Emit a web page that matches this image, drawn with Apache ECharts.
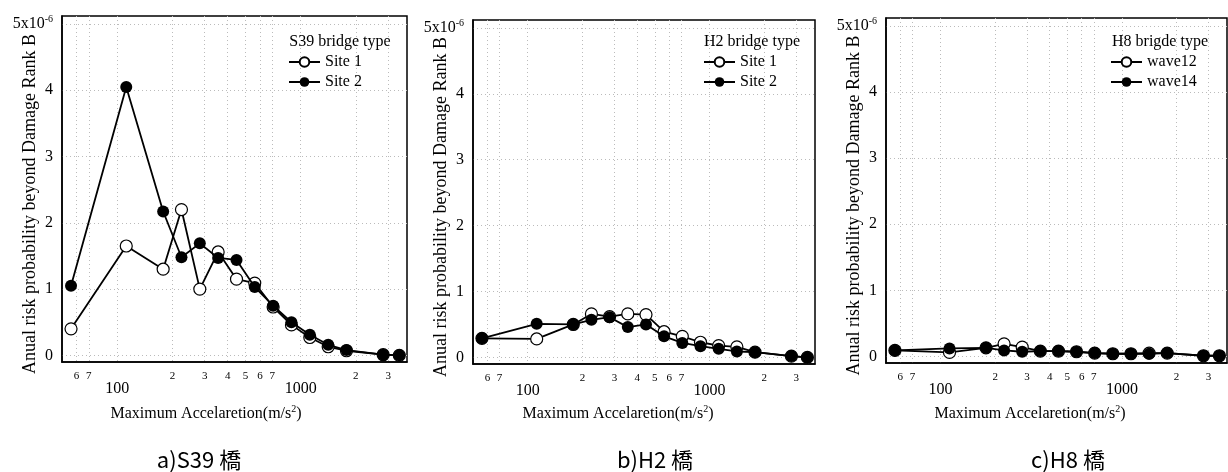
<!DOCTYPE html>
<html>
<head>
<meta charset="utf-8">
<script src="https://cdn.jsdelivr.net/npm/echarts@6/dist/echarts.min.js"></script>
<style>
html,body{margin:0;padding:0;background:#fff;}
#chart{width:1228px;height:472px;}
</style>
</head>
<body>
<div id="chart"></div>
<script>
// ---- data (y values in units of 1e-6) ----
const accel = [56, 112, 178, 224, 282, 355, 447, 562, 708, 891, 1122, 1413, 1778, 2818, 3450];
const s39Site1 = [0.40, 1.65, 1.30, 2.20, 1.00, 1.56, 1.15, 1.09, 0.73, 0.46, 0.27, 0.13, 0.07, 0.01, 0.00];
const s39Site2 = [1.05, 4.05, 2.17, 1.48, 1.69, 1.47, 1.44, 1.03, 0.75, 0.50, 0.31, 0.16, 0.08, 0.01, 0.00];
const h2Site1  = [0.29, 0.28, 0.50, 0.66, 0.62, 0.66, 0.65, 0.39, 0.32, 0.23, 0.18, 0.16, 0.08, 0.02, 0.00];
const h2Site2  = [0.29, 0.51, 0.50, 0.57, 0.61, 0.46, 0.50, 0.32, 0.22, 0.17, 0.13, 0.09, 0.08, 0.02, 0.00];
const h8Wave12 = [0.09, 0.06, 0.13, 0.19, 0.14, 0.08, 0.08, 0.07, 0.05, 0.04, 0.04, 0.05, 0.05, 0.01, 0.01];
const h8Wave14 = [0.09, 0.12, 0.13, 0.09, 0.07, 0.08, 0.08, 0.07, 0.05, 0.04, 0.04, 0.04, 0.05, 0.01, 0.01];

const minorTicks = [60, 70, 200, 300, 400, 500, 600, 700, 2000, 3000];
const majorTicks = [100, 1000];
const yTicks = [0, 1, 2, 3, 4, 5];
const xRange = [50, 3800];
const yRange = [-0.1, 5.12];

const panels = [
  {header: 'S39 bridge type', names: ['Site 1', 'Site 2'], s: [s39Site1, s39Site2], caption: 'a)S39 橋'},
  {header: 'H2 bridge type', names: ['Site 1', 'Site 2'], s: [h2Site1, h2Site2], caption: 'b)H2 橋'},
  {header: 'H8 brigde type', names: ['wave12', 'wave14'], s: [h8Wave12, h8Wave14], caption: 'c)H8 橋'}
];

// ---- layout ----
const SERIF = '"Liberation Serif","DejaVu Serif",serif';
const grids = [
  {left: 62, top: 16, width: 345, height: 346},
  {left: 473, top: 20, width: 342, height: 344},
  {left: 886, top: 18, width: 341, height: 345}
];
const legendPos = [
  {hx: 340, iconX: 288},
  {hx: 752, iconX: 703},
  {hx: 1160, iconX: 1110}
];
const xTitleCx = [206, 618, 1030];
const captionCx = [199, 655, 1068];

const lg = v => Math.log10(v);
const option = {
  animation: false,
  backgroundColor: '#fff',
  grid: grids.map(g => Object.assign({show: true, borderColor: '#000', borderWidth: 1.5, containLabel: false, outerBoundsMode: 'none'}, g)),
  xAxis: [],
  yAxis: [],
  series: [],
  legend: [],
  graphic: []
};

panels.forEach((p, i) => {
  // minor-digit axis
  option.xAxis.push({
    type: 'value', gridIndex: i, position: 'bottom',
    min: lg(xRange[0]), max: lg(xRange[1]),
    axisLine: {show: true, onZero: false, lineStyle: {color: '#000', width: 1.5}},
    axisTick: {show: false, customValues: minorTicks.concat(majorTicks).map(lg)},
    axisLabel: {
      customValues: minorTicks.map(lg), margin: 9,
      fontFamily: SERIF, fontSize: 11, color: '#000',
      formatter: v => String(Math.round(Math.pow(10, v))).charAt(0)
    },
    splitLine: {show: true, lineStyle: {color: '#bbb', type: [1, 3], width: 1}}
  });
  // decade axis
  option.xAxis.push({
    type: 'value', gridIndex: i, position: 'bottom',
    min: lg(xRange[0]), max: lg(xRange[1]),
    axisLine: {show: false},
    axisTick: {show: false, customValues: majorTicks.map(lg)},
    axisLabel: {
      customValues: majorTicks.map(lg), margin: 19,
      fontFamily: SERIF, fontSize: 16, color: '#000',
      formatter: v => String(Math.round(Math.pow(10, v)))
    },
    splitLine: {show: false}
  });
  option.yAxis.push({
    type: 'value', gridIndex: i, min: yRange[0], max: yRange[1],
    name: 'Anual risk probability beyond Damage Rank B',
    nameLocation: 'middle', nameGap: 23, nameMoveOverlap: false,
    nameTextStyle: {fontFamily: SERIF, fontSize: 18, color: '#000', padding: [0, 30, 0, 0]},
    axisLine: {show: true, onZero: false, lineStyle: {color: '#000', width: 1.5}},
    axisTick: {show: false, customValues: yTicks},
    axisLabel: {
      customValues: yTicks, margin: 9,
      fontFamily: SERIF, fontSize: 16, color: '#000',
      formatter: v => v === 5 ? '{b|5x10}{s|-6}' : String(v),
      rich: {
        b: {fontFamily: SERIF, fontSize: 16, color: '#000'},
        s: {fontFamily: SERIF, fontSize: 10, color: '#000', verticalAlign: 'top', padding: [0, 0, 10, 0]}
      }
    },
    splitLine: {show: true, lineStyle: {color: '#bbb', type: [1, 3], width: 1}}
  });
  // series
  const xi = i * 2;
  option.series.push({
    name: p.names[0], type: 'line', xAxisIndex: xi, yAxisIndex: i,
    data: accel.map((a, k) => [lg(a), p.s[0][k]]),
    symbol: 'circle', symbolSize: 12,
    itemStyle: {color: '#fff', borderColor: '#000', borderWidth: 1.2},
    lineStyle: {color: '#000', width: 1.8}, z: 2
  });
  option.series.push({
    name: p.names[1], type: 'line', xAxisIndex: xi, yAxisIndex: i,
    data: accel.map((a, k) => [lg(a), p.s[1][k]]),
    symbol: 'circle', symbolSize: 12,
    itemStyle: {color: '#000'},
    lineStyle: {color: '#000', width: 1.8}, z: 3
  });
  option.legend.push({
    orient: 'vertical', left: legendPos[i].iconX - 5, top: 49,
    data: p.names, itemWidth: 31, itemHeight: 12, itemGap: 4,
    textStyle: {fontFamily: SERIF, fontSize: 16, color: '#000'},
    selectedMode: false
  });
  option.graphic.push({
    type: 'text', x: legendPos[i].hx, y: 42,
    style: {text: p.header, fontFamily: SERIF, fontSize: 16, fill: '#000', align: 'center', verticalAlign: 'middle'}
  });
  option.graphic.push({
    type: 'text', x: xTitleCx[i], y: 414,
    style: {
      text: '{a|Maximum Accelaretion(m/s}{s|2}{a|)}',
      align: 'center', verticalAlign: 'middle',
      rich: {
        a: {fontFamily: SERIF, fontSize: 16, fill: '#000', color: '#000'},
        s: {fontFamily: SERIF, fontSize: 10, fill: '#000', color: '#000', verticalAlign: 'top', padding: [0, 0, 10, 0]}
      }
    }
  });
  option.graphic.push({
    type: 'text', x: captionCx[i], y: 460,
    style: {text: p.caption, fontFamily: '"Noto Sans CJK JP","Noto Sans CJK SC",sans-serif', fontSize: 22, fill: '#000', align: 'center', verticalAlign: 'middle'}
  });
});

const chart = echarts.init(document.getElementById('chart'), null, {renderer: 'canvas'});
chart.setOption(option);
</script>
</body>
</html>
